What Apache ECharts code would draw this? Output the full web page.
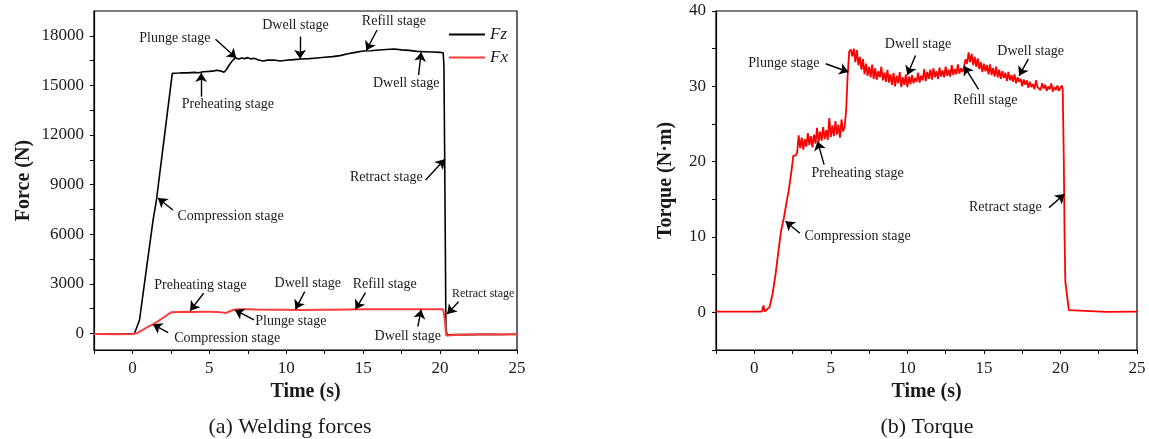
<!DOCTYPE html>
<html>
<head>
<meta charset="utf-8">
<script src="https://cdn.jsdelivr.net/npm/echarts@6/dist/echarts.min.js"></script>
<style>
  html, body { margin: 0; padding: 0; background: #fff; }
  #main { width: 1149px; height: 439px; }
</style>
</head>
<body>
<div id="main"></div>
<script>
// axis ticks
const timeLabels = [0, 5, 10, 15, 20, 25]
const forceLabels = [0, 3000, 6000, 9000, 12000, 15000, 18000]
const forceTicks = [0, 1500, 3000, 4500, 6000, 7500, 9000, 10500, 12000, 13500, 15000, 16500, 18000]
const torqueLabels = [0, 10, 20, 30, 40]

// Fz (N), [time s, force N]
const fzPoints = [
  [-2.5, -30], [-1.5, -40], [-0.5, -20], [0.13, 0], [0.46, 815], [0.9, 3840], [1.34, 6860], [1.56, 8070],
  [2.0, 11340], [2.59, 15730], [3.0, 15750], [3.3, 15770], [3.6, 15760], [4.0, 15790], [4.3, 15770],
  [4.6, 15830], [5.0, 15850], [5.3, 15880], [5.5, 15920], [5.7, 15880], [5.95, 15800], [6.1, 15950],
  [6.3, 16250], [6.5, 16500], [6.7, 16660], [6.9, 16600], [7.1, 16660], [7.3, 16620], [7.5, 16680],
  [7.7, 16600], [7.9, 16640], [8.2, 16540], [8.5, 16480], [8.8, 16530], [9.2, 16540], [9.6, 16480],
  [10.0, 16520], [10.5, 16560], [11.0, 16600], [11.5, 16620], [12.0, 16660], [12.5, 16700], [13.0, 16740],
  [13.5, 16800], [14.0, 16920], [14.5, 17000], [15.0, 17080], [15.5, 17100], [16.0, 17140], [16.5, 17170],
  [17.0, 17200], [17.5, 17150], [18.0, 17120], [18.5, 17060], [19.0, 17040], [19.5, 17020], [20.0, 17000],
  [20.2, 16980], [20.25, 16200], [20.3, 10500], [20.38, 300], [20.45, -80], [21.0, -60], [22.0, -70],
  [23.0, -50], [24.0, -60], [25.0, -50]
]

// Fx (N)
const fxPoints = [
  [-2.5, -40], [-1.0, -50], [0.0, -30], [0.3, 20], [0.6, 180], [1.0, 400], [1.33, 550], [1.6, 700],
  [2.0, 950], [2.3, 1150], [2.55, 1290], [3.0, 1300], [3.5, 1310], [4.0, 1300], [4.5, 1320], [5.0, 1310],
  [5.5, 1300], [5.9, 1260], [6.1, 1240], [6.3, 1330], [6.6, 1440], [7.0, 1470], [7.5, 1460], [8.0, 1450],
  [9.0, 1440], [10.0, 1430], [11.0, 1420], [12.0, 1430], [13.0, 1440], [14.0, 1450], [15.0, 1460],
  [16.0, 1460], [17.0, 1460], [18.0, 1460], [19.0, 1460], [20.0, 1460], [20.2, 1460], [20.3, 900],
  [20.4, -130], [21.0, -90], [22.0, -70], [23.0, -60], [24.0, -60], [25.0, -50]
]

// Torque (N·m)
const torquePoints = [
  [-2.5, 0.1], [0.5, 0.1], [0.6, 0.9], [0.68, 0.1], [0.8, 0.2], [1.0, 0.7], [1.2, 2.5], [1.4, 5.2],
  [1.6, 8.5], [1.75, 10.8], [1.93, 12.5], [2.1, 14.5], [2.26, 16.3], [2.4, 18.3], [2.55, 20.8],
  [2.6, 21.0], [2.7, 20.8], [2.8, 21.2], [2.9, 23.5], [3.0, 21.8], [3.1, 23.2], [3.2, 21.6], [3.3, 23.0],
  [3.4, 22.0], [3.5, 23.8], [3.6, 22.2], [3.7, 23.4], [3.8, 21.9], [3.9, 23.6], [4.0, 22.4], [4.1, 24.5],
  [4.2, 22.6], [4.3, 24.0], [4.4, 22.8], [4.5, 24.6], [4.6, 23.0], [4.7, 24.2], [4.8, 22.9], [4.9, 25.8],
  [5.0, 23.3], [5.1, 24.8], [5.2, 23.4], [5.3, 25.4], [5.4, 23.6], [5.5, 24.9], [5.6, 23.2], [5.7, 25.6],
  [5.8, 24.0], [5.9, 24.6], [6.0, 26.8], [6.1, 31.5], [6.2, 34.6], [6.3, 34.9], [6.4, 34.0], [6.5, 35.0],
  [6.6, 33.2], [6.7, 34.8], [6.8, 32.8], [6.9, 33.9], [7.0, 32.2], [7.1, 33.6], [7.2, 31.6], [7.3, 33.0],
  [7.4, 31.4], [7.5, 32.6], [7.6, 31.2], [7.7, 32.9], [7.8, 31.0], [7.9, 32.4], [8.0, 30.9], [8.1, 32.0],
  [8.2, 31.2], [8.3, 32.6], [8.4, 30.8], [8.5, 31.8], [8.6, 30.6], [8.7, 32.2], [8.8, 30.5], [8.9, 31.6],
  [9.0, 30.2], [9.1, 31.8], [9.2, 30.0], [9.3, 31.4], [9.4, 30.4], [9.5, 31.9], [9.6, 29.9], [9.7, 31.2],
  [9.8, 30.2], [9.9, 31.6], [10.0, 29.9], [10.1, 31.3], [10.2, 30.3], [10.3, 31.5], [10.4, 30.4],
  [10.5, 31.1], [10.6, 30.6], [10.7, 31.8], [10.8, 30.5], [10.9, 31.4], [11.0, 30.8], [11.1, 32.3],
  [11.2, 30.7], [11.3, 31.9], [11.4, 31.0], [11.5, 32.2], [11.6, 30.9], [11.7, 32.4], [11.8, 31.2],
  [11.9, 32.0], [12.0, 31.0], [12.1, 32.5], [12.2, 31.3], [12.3, 32.1], [12.4, 31.2], [12.5, 32.6],
  [12.6, 31.4], [12.7, 32.2], [12.8, 31.3], [12.9, 32.8], [13.0, 31.5], [13.1, 32.3], [13.2, 31.6],
  [13.3, 32.9], [13.4, 31.7], [13.5, 32.4], [13.6, 31.9], [13.7, 32.6], [13.8, 33.6], [13.9, 33.0],
  [14.0, 34.5], [14.1, 33.2], [14.2, 34.3], [14.3, 32.8], [14.4, 33.9], [14.5, 32.6], [14.6, 33.7],
  [14.7, 32.3], [14.8, 33.2], [14.9, 31.9], [15.0, 33.0], [15.1, 32.0], [15.2, 32.8], [15.3, 31.6],
  [15.4, 32.9], [15.5, 31.5], [15.6, 32.4], [15.7, 31.3], [15.8, 32.6], [15.9, 31.2], [16.0, 32.2],
  [16.1, 31.0], [16.2, 32.0], [16.3, 31.1], [16.4, 31.8], [16.5, 30.7], [16.6, 31.9], [16.7, 30.8],
  [16.8, 31.5], [16.9, 30.6], [17.0, 31.6], [17.1, 30.4], [17.2, 31.2], [17.3, 30.6], [17.4, 31.0],
  [17.5, 30.0], [17.6, 30.9], [17.7, 30.2], [17.8, 30.8], [17.9, 29.8], [18.0, 30.6], [18.1, 29.9],
  [18.2, 30.3], [18.3, 29.6], [18.4, 30.8], [18.5, 29.9], [18.6, 30.1], [18.7, 29.5], [18.8, 30.4],
  [18.9, 29.7], [19.0, 30.2], [19.1, 29.4], [19.2, 30.0], [19.3, 29.6], [19.4, 30.4], [19.5, 29.3],
  [19.6, 29.9], [19.7, 29.5], [19.8, 30.1], [19.9, 29.4], [20.0, 29.8], [20.1, 30.1], [20.15, 29.5],
  [20.22, 20.0], [20.27, 10.0], [20.32, 4.0], [20.55, 0.3], [23.0, 0.05], [25.0, 0.1]
]

// stage notes: text position and arrow (tail -> head), in data units
const fzNotes = [
  { text: 'Plunge stage', at: [2.76, 17870], from: [5.4, 17790], to: [6.75, 16660] },
  { text: 'Preheating stage', at: [6.2, 13860], from: [4.47, 14320], to: [4.47, 15750] },
  { text: 'Compression stage', at: [6.38, 7100], from: [2.63, 7470], to: [1.66, 8190] },
  { text: 'Dwell stage', at: [10.6, 18650], from: [10.9, 17950], to: [10.9, 16620] },
  { text: 'Refill stage', at: [17.0, 18850], from: [15.9, 18350], to: [15.2, 17110] },
  { text: 'Dwell stage', at: [17.8, 15130], from: [18.6, 15630], to: [18.77, 17000] },
  { text: 'Retract stage', at: [16.5, 9420], from: [19.06, 9280], to: [20.3, 10530] }
]
const fxNotes = [
  { text: 'Preheating stage', at: [4.41, 2930], from: [4.63, 2430], to: [3.75, 1380] },
  { text: 'Compression stage', at: [6.16, -290], from: [2.32, 50], to: [1.33, 555] },
  { text: 'Plunge stage', at: [10.3, 715], from: [7.9, 815], to: [6.66, 1420] },
  { text: 'Dwell stage', at: [11.4, 3030], from: [11.2, 2530], to: [10.6, 1460] },
  { text: 'Refill stage', at: [16.4, 2990], from: [15.15, 2470], to: [14.5, 1460] },
  { text: 'Dwell stage', at: [17.9, -190], from: [18.55, 410], to: [18.77, 1440] },
  { text: 'Retract stage', at: [22.8, 2390], from: [21.2, 1920], to: [20.46, 1180], small: true }
]
const torqueNotes = [
  { text: 'Plunge stage', at: [1.93, 33.0], from: [4.67, 33.0], to: [6.15, 31.9] },
  { text: 'Dwell stage', at: [10.7, 35.6], from: [10.53, 34.1], to: [10.0, 31.5] },
  { text: 'Refill stage', at: [15.1, 28.2], from: [14.65, 29.6], to: [13.7, 32.7] },
  { text: 'Dwell stage', at: [18.05, 34.7], from: [17.9, 33.6], to: [17.3, 31.4] },
  { text: 'Preheating stage', at: [6.75, 18.5], from: [4.56, 19.6], to: [4.13, 22.7] },
  { text: 'Compression stage', at: [6.75, 10.1], from: [2.98, 10.5], to: [2.04, 12.1] },
  { text: 'Retract stage', at: [16.4, 14.0], from: [19.25, 13.9], to: [20.27, 15.7] }
]

const serif = 'Liberation Serif'
const ink = '#1a1a1a'

function noteMarks (notes) {
  return {
    markPoint: {
      silent: true,
      symbol: 'rect',
      symbolSize: 1,
      itemStyle: { color: 'transparent' },
      data: notes.map(n => ({
        name: n.text,
        coord: n.at,
        label: {
          show: true,
          position: 'inside',
          formatter: '{b}',
          color: ink,
          fontFamily: serif,
          fontSize: n.small ? 12 : 14
        }
      }))
    },
    markLine: {
      silent: true,
      symbol: ['none', 'arrow'],
      symbolSize: 9,
      label: { show: false },
      itemStyle: { color: '#000' },
      lineStyle: { color: '#000', width: 1.4, type: 'solid' },
      animation: false,
      data: notes.map(n => [{ coord: n.from }, { coord: n.to }])
    }
  }
}

function timeAxis (gridIndex) {
  return {
    type: 'value',
    gridIndex,
    min: -2.5,
    max: 25,
    interval: 2.5,
    name: 'Time (s)',
    nameLocation: 'middle',
    nameGap: 32,
    nameTextStyle: { fontFamily: serif, fontWeight: 'bold', fontSize: 20, color: ink },
    axisLine: { onZero: false, lineStyle: { color: '#000', width: 1.2 } },
    axisTick: { inside: false, length: 4, lineStyle: { color: '#000' } },
    axisLabel: {
      interval: 0,
      margin: 10,
      fontFamily: serif,
      fontSize: 17,
      color: ink,
      formatter: v => (timeLabels.includes(v) ? String(v) : '')
    },
    splitLine: { show: false }
  }
}

const chart = echarts.init(document.getElementById('main'))
chart.setOption({
  animation: false,
  backgroundColor: '#fff',
  grid: [
    { left: 94, top: 11, width: 423, height: 339, show: true, borderColor: '#000', borderWidth: 1.2 },
    { left: 716, top: 11, width: 421, height: 339, show: true, borderColor: '#000', borderWidth: 1.2 }
  ],
  legend: {
    left: 449,
    top: 26,
    padding: 0,
    orient: 'vertical',
    icon: 'rect',
    itemWidth: 36,
    itemHeight: 2,
    itemGap: 6,
    data: ['Fz', 'Fx'],
    textStyle: { fontFamily: serif, fontStyle: 'italic', fontSize: 17, color: ink, lineHeight: 17 }
  },
  xAxis: [timeAxis(0), timeAxis(1)],
  yAxis: [
    {
      type: 'value',
      gridIndex: 0,
      min: -1000,
      max: 19500,
      name: 'Force (N)',
      nameLocation: 'middle',
      nameGap: 60,
      nameTextStyle: { fontFamily: serif, fontWeight: 'bold', fontSize: 20, color: ink },
      axisLine: { show: true, onZero: false, lineStyle: { color: '#000', width: 1.2 } },
      axisTick: { show: true, length: 4, customValues: forceTicks, lineStyle: { color: '#000' } },
      axisLabel: {
        customValues: forceLabels,
        margin: 10,
        fontFamily: serif,
        fontSize: 17,
        color: ink,
        formatter: v => String(v)
      },
      splitLine: { show: false }
    },
    {
      type: 'value',
      gridIndex: 1,
      min: -5,
      max: 40,
      interval: 5,
      name: 'Torque (N·m)',
      nameLocation: 'middle',
      nameGap: 40,
      nameTextStyle: { fontFamily: serif, fontWeight: 'bold', fontSize: 20, color: ink },
      axisLine: { show: true, onZero: false, lineStyle: { color: '#000', width: 1.2 } },
      axisTick: { show: true, length: 4, lineStyle: { color: '#000' } },
      axisLabel: {
        margin: 10,
        fontFamily: serif,
        fontSize: 17,
        color: ink,
        formatter: v => (torqueLabels.includes(v) ? String(v) : '')
      },
      splitLine: { show: false }
    }
  ],
  graphic: [
    { type: 'text', x: 290, y: 427, style: { text: '(a) Welding forces', font: '22px "Liberation Serif"', fill: ink, textAlign: 'center', textVerticalAlign: 'middle' } },
    { type: 'text', x: 927, y: 427, style: { text: '(b) Torque', font: '22px "Liberation Serif"', fill: ink, textAlign: 'center', textVerticalAlign: 'middle' } }
  ],
  series: [
    Object.assign({
      name: 'Fz',
      type: 'line',
      xAxisIndex: 0,
      yAxisIndex: 0,
      symbol: 'none',
      color: '#000',
      lineStyle: { color: '#000', width: 1.6 },
      data: fzPoints
    }, noteMarks(fzNotes)),
    Object.assign({
      name: 'Fx',
      type: 'line',
      xAxisIndex: 0,
      yAxisIndex: 0,
      symbol: 'none',
      color: '#ff3b3b',
      lineStyle: { color: '#ff3b3b', width: 2 },
      data: fxPoints
    }, noteMarks(fxNotes)),
    Object.assign({
      name: 'Torque',
      type: 'line',
      xAxisIndex: 1,
      yAxisIndex: 1,
      symbol: 'none',
      color: '#ff0000',
      lineStyle: { color: '#ff0000', width: 1.8 },
      data: torquePoints
    }, noteMarks(torqueNotes))
  ]
})
</script>
</body>
</html>
